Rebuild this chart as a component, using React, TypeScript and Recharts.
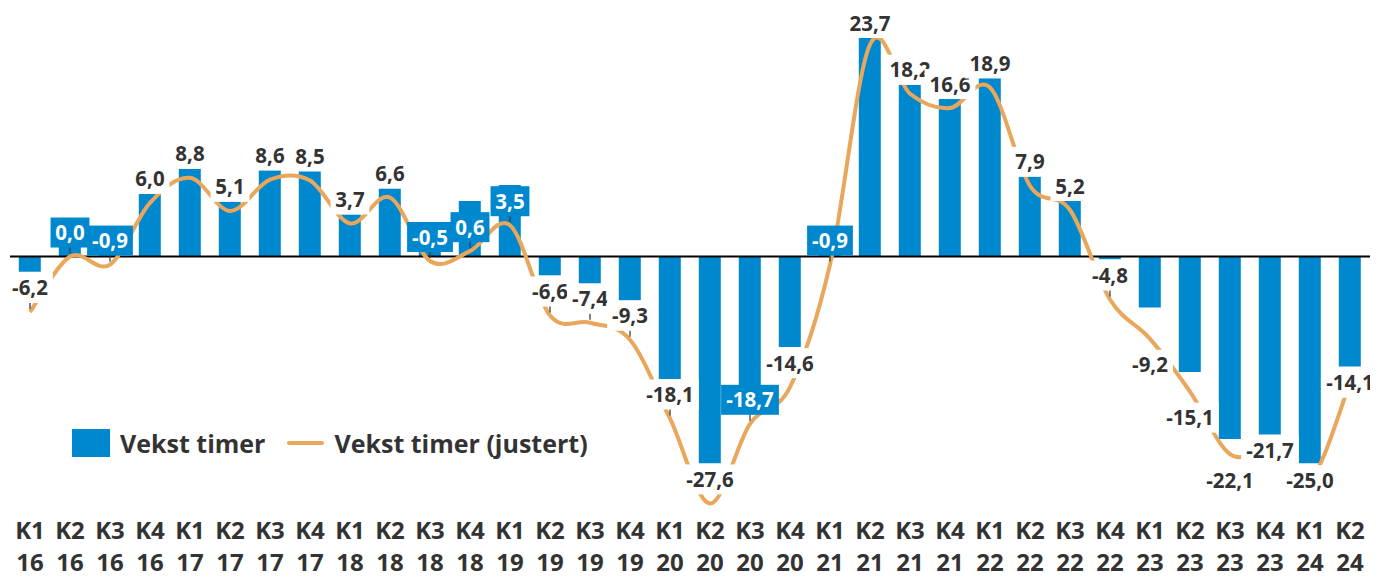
import { ComposedChart, Bar, Line, XAxis, YAxis, ReferenceLine, Legend, LabelList } from "recharts";

// Kvartaler og år (to linjer under aksen)
const quarters = [
  "K1", "K2", "K3", "K4", "K1", "K2", "K3", "K4", "K1", "K2", "K3", "K4",
  "K1", "K2", "K3", "K4", "K1", "K2", "K3", "K4", "K1", "K2", "K3", "K4",
  "K1", "K2", "K3", "K4", "K1", "K2", "K3", "K4", "K1", "K2",
];
const years = [
  "16", "16", "16", "16", "17", "17", "17", "17", "18", "18", "18", "18",
  "19", "19", "19", "19", "20", "20", "20", "20", "21", "21", "21", "21",
  "22", "22", "22", "22", "23", "23", "23", "23", "24", "24",
];

// Vekst timer (søyler, lest av bildet)
const vekst = [
  -1.7, 3.0, 2.0, 7.0, 9.8, 6.2, 9.7, 9.6, 4.7, 7.6, 3.0, 6.2,
  8.0, -2.1, -3.0, -4.9, -13.7, -23.1, -15.8, -10.1, 2.5, 25.0, 19.2, 17.6,
  20.0, 9.1, 6.3, -0.3, -5.7, -12.9, -20.4, -19.9, -23.1, -12.3,
];

// Vekst timer (justert) – linjen, verdiene fra etikettene
const justert = [
  -6.2, 0.0, -0.9, 6.0, 8.8, 5.1, 8.6, 8.5, 3.7, 6.6, -0.5, 0.6,
  3.5, -6.6, -7.4, -9.3, -18.1, -27.6, -18.7, -14.6, -0.9, 23.7, 18.2, 16.6,
  18.9, 7.9, 5.2, -4.8, -9.2, -15.1, -22.1, -21.7, -25.0, -14.1,
];

const BLUE = "#0088CE";
const ORANGE = "#E9A75C";
const TEXT = "#333333";
const FONT = "'Open Sans', 'Noto Sans', sans-serif";

// etiketter med blå bakgrunn, plassering, og hvilke som har hjelpestrek
const blueLabels = new Set([1, 2, 10, 11, 12, 18, 20]);
const belowLabels = new Set([28, 29, 30]);
const centerLabels = new Set([31, 32, 33]);
const leaderLabels = new Set([0, 1, 2, 10, 11, 12, 13, 14, 15, 16, 18, 20, 27]);

const data = quarters.map((q, i) => ({
  name: `${q}|${years[i]}`,
  vekst: vekst[i],
  justert: justert[i],
}));

const fmt = (v: number) => v.toFixed(1).replace(".", ",");

// Excel-lignende glatting (Catmull-Rom)
const smoothCurve = (context: any) => {
  let pts: number[][] = [];
  return {
    areaStart() {},
    areaEnd() {},
    lineStart() {
      pts = [];
    },
    point(x: number, y: number) {
      pts.push([+x, +y]);
    },
    lineEnd() {
      const n = pts.length;
      if (!n) return;
      context.moveTo(pts[0][0], pts[0][1]);
      for (let i = 0; i < n - 1; i++) {
        const p0 = pts[i - 1] || pts[i];
        const p1 = pts[i];
        const p2 = pts[i + 1];
        const p3 = pts[i + 2] || p2;
        context.bezierCurveTo(
          p1[0] + (p2[0] - p0[0]) / 6,
          p1[1] + (p2[1] - p0[1]) / 6,
          p2[0] - (p3[0] - p1[0]) / 6,
          p2[1] - (p3[1] - p1[1]) / 6,
          p2[0],
          p2[1]
        );
      }
    },
  };
};

const textWidth = (s: string) =>
  s.split("").reduce((w, c) => w + (c === "," ? 5.9 : c === "-" ? 6.9 : 12), 0);

const renderLabel = (props: any) => {
  const { x, y, value, index } = props;
  const s = fmt(value);
  const w = textWidth(s) + 9;
  const h = 30;
  let cy = y - 24;
  if (belowLabels.has(index)) cy = y + 26;
  if (centerLabels.has(index)) cy = y;
  cy = Math.max(cy, h / 2); // ikke over kanten
  const blue = blueLabels.has(index);
  return (
    <g>
      <rect x={x - w / 2} y={cy - h / 2} width={w} height={h} fill={blue ? BLUE : "#ffffff"} />
      {leaderLabels.has(index) && (
        <line x1={x} x2={x} y1={cy + h / 2} y2={y - 3} stroke="#404040" strokeWidth={1.3} />
      )}
      <text
        x={x}
        y={cy + 7.5}
        textAnchor="middle"
        fontFamily={FONT}
        fontWeight={700}
        fontSize={20.5}
        fill={blue ? "#ffffff" : TEXT}
      >
        {s}
      </text>
    </g>
  );
};

const AxisTick = (props: any) => {
  const { x, y, payload } = props;
  const [q, yr] = String(payload.value).split("|");
  return (
    <g>
      <text x={x} y={y + 32} textAnchor="middle" fontFamily={FONT} fontWeight={700} fontSize={24} fill={TEXT}>
        {q}
      </text>
      <text x={x} y={y + 64} textAnchor="middle" fontFamily={FONT} fontWeight={700} fontSize={24} fill={TEXT}>
        {yr}
      </text>
    </g>
  );
};

const LegendBox = () => (
  <div
    style={{
      display: "flex",
      alignItems: "center",
      fontFamily: FONT,
      fontWeight: 700,
      fontSize: 25,
      lineHeight: "28px",
      color: TEXT,
      whiteSpace: "nowrap",
    }}
  >
    <span style={{ display: "inline-block", width: 38, height: 28, background: BLUE }} />
    <span style={{ marginLeft: 10 }}>Vekst timer</span>
    <span style={{ display: "inline-block", width: 37, height: 4, borderRadius: 2, background: ORANGE, marginLeft: 22 }} />
    <span style={{ marginLeft: 10 }}>Vekst timer (justert)</span>
  </div>
);

export default function App() {
  return (
    <ComposedChart
      width={1370}
      height={571}
      data={data}
      margin={{ top: 7, right: 8, bottom: 10, left: 2 }}
      barCategoryGap="22%"
    >
      <XAxis
        dataKey="name"
        interval={0}
        axisLine={false}
        tickLine={false}
        tickSize={0}
        tickMargin={0}
        height={62}
        tick={<AxisTick />}
      />
      <YAxis hide domain={[-28, 27]} />
      <Legend
        layout="horizontal"
        verticalAlign="middle"
        align="center"
        content={<LegendBox />}
        wrapperStyle={{ left: 64, top: 421, width: "auto" }}
      />
      <Bar dataKey="vekst" fill={BLUE} isAnimationActive={false} />
      <ReferenceLine y={0} stroke="#000000" strokeWidth={2} />
      <Line
        dataKey="justert"
        type={smoothCurve as any}
        stroke={ORANGE}
        strokeWidth={4}
        dot={false}
        activeDot={false}
        isAnimationActive={false}
      >
        <LabelList dataKey="justert" content={renderLabel} />
      </Line>
    </ComposedChart>
  );
}
